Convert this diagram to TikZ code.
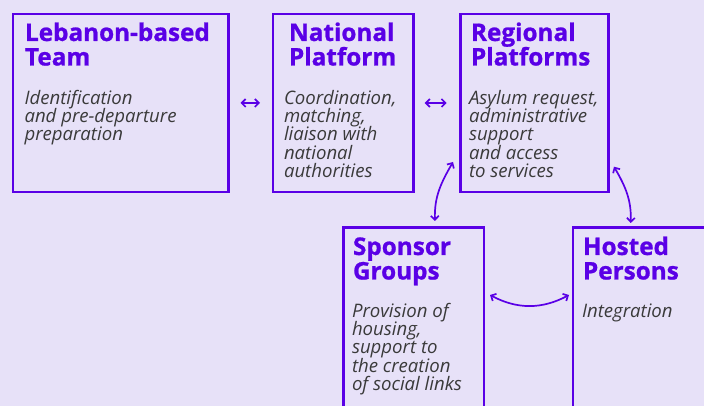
\documentclass[tikz,border=0pt]{standalone}
\usepackage{fontspec}
\setmainfont{Open Sans}
\usetikzlibrary{arrows.meta}

\definecolor{paper}{HTML}{E7E1F8}
\definecolor{boxpurple}{HTML}{5A00E6}
\definecolor{bodygrey}{HTML}{3A3A3A}

% keep line spacing even, whatever the descenders
\lineskiplimit=-100pt

\begin{document}
\begin{tikzpicture}[x=1pt,y=1pt]
  \tikzstyle{every node} = [inner sep=0pt, outer sep=0pt]
  \tikzstyle{box} = [draw=boxpurple, line width=2.6pt, anchor=north west]
  % multi-line nodes sit on the baseline of their last line
  \tikzstyle{title} = [anchor=base west, align=left, text=boxpurple,
                       font=\fontsize{24.3}{24.5}\selectfont\bfseries\addfontfeature{FakeBold=0.9}]
  \tikzstyle{body} = [anchor=base west, align=left, text=bodygrey,
                      font=\fontsize{18.6}{18.3}\selectfont\itshape]
  \tikzstyle{link} = [boxpurple, line width=1.7pt,
                      {Straight Barb[length=4pt,width=8pt]}-{Straight Barb[length=4pt,width=8pt]}]

  \fill[paper] (0,0) rectangle (704,406);
  \useasboundingbox (0,0) rectangle (704,406);
  \clip (0,0) rectangle (704,406);

  % the five boxes
  \node[box, minimum width=215.5pt, minimum height=178pt] (lebteam) at (13,392) {};
  \node[box, minimum width=140.7pt, minimum height=178pt] (natplat) at (273,392) {};
  \node[box, minimum width=148pt, minimum height=178pt] (regplat) at (460.7,392) {};
  \node[box, minimum width=140.3pt, minimum height=200pt] (sponsor) at (343.7,178.7) {};
  \node[box, minimum width=160pt, minimum height=200pt] (hosted) at (573,178.7) {};

  % titles and descriptions
  \node[title] (lebteam-title) at (25,340.5) {Lebanon-based\\Team};
  \node[body] (lebteam-text) at (24.5,265.1) {Identification\\and pre-departure\\preparation};

  \node[title] (natplat-title) at (289,340.5) {National\\Platform};
  \node[body] (natplat-text) at (284,228.5) {Coordination,\\matching,\\liaison with\\national\\authorities};

  \node[title] (regplat-title) at (471,340.5) {Regional\\Platforms};
  \node[body] (regplat-text) at (469,228.5) {Asylum request,\\administrative\\support\\and access\\to services};

  \node[title] (sponsor-title) at (353,126.5) {Sponsor\\Groups};
  \node[body] (sponsor-text) at (352,15.5) {Provision of\\housing,\\support to\\the creation\\of social links};

  \node[title] (hosted-title) at (583,126.5) {Hosted\\Persons};
  \node[body] (hosted-text) at (582,88.7) {Integration};

  % links between the boxes
  \draw[link] ([xshift=12pt]lebteam.east) -- ([xshift=-13pt]natplat.west);
  \draw[link] ([xshift=11pt]natplat.east) -- ([xshift=-14pt]regplat.west);
  \draw[link] ([shift={(91.3pt,6.3pt)}]sponsor.north west)
    to[out=92, in=240] ([shift={(-7.7pt,30pt)}]regplat.south west);
  \draw[link] ([shift={(5.3pt,25.3pt)}]regplat.south east)
    to[out=300, in=88] ([shift={(57.7pt,4.3pt)}]hosted.north west);
  \draw[link] ([shift={(6pt,-67.7pt)}]sponsor.north east)
    to[bend right=28] ([shift={(-4pt,-67.7pt)}]hosted.north west);
\end{tikzpicture}
\end{document}
